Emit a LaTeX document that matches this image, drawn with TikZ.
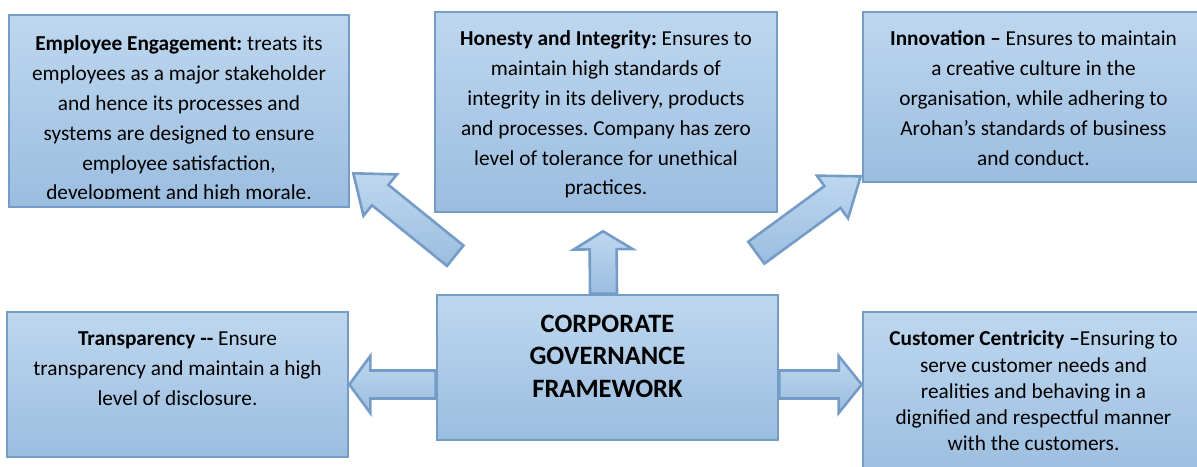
\documentclass[tikz,border=0pt]{standalone}
\usepackage{fontspec}
\setmainfont{Carlito}
\usetikzlibrary{calc}
\frenchspacing

\definecolor{edge}{RGB}{116,156,199}
\definecolor{filltop}{RGB}{190,215,239}
\definecolor{fillbot}{RGB}{155,189,223}

\tikzset{
  panel/.style={draw=edge, line width=2.6pt, top color=filltop, bottom color=fillbot, inner sep=0pt},
  blurb/.style={align=center, inner sep=0pt, anchor=north, font=\fontsize{21.3}{29.8}\selectfont},
  tightblurb/.style={blurb, font=\fontsize{21.3}{26.2}\selectfont},
  headline/.style={align=center, inner sep=0pt, anchor=north, font=\fontsize{26.5}{32.5}\selectfont\bfseries},
  arrowbody/.style={draw=edge, line width=2.6pt, top color=filltop, bottom color=fillbot, line join=miter}
}

% Block arrow from #1 (tail centre) to #2 (tip):
% #3 shaft half-width, #4 head half-width, #5 head length (all in pt)
\newcommand\blockarrow[5]{%
  \coordinate (#1-h) at ($(#2)!#5pt!(#1)$);
  \path[arrowbody]
    ($(#1)!#3pt!90:(#2)$) -- ($(#1-h)!#3pt!-90:(#1)$) -- ($(#1-h)!#4pt!-90:(#1)$)
    -- (#2)
    -- ($(#1-h)!#4pt!90:(#1)$) -- ($(#1-h)!#3pt!90:(#1)$) -- ($(#1)!#3pt!-90:(#2)$) -- cycle;
}

\begin{document}
\begin{tikzpicture}[x=1pt,y=-1pt]
\useasboundingbox (0,0) rectangle (1197,466);

% the six panels
\node[panel, minimum width=340pt, minimum height=192pt] (ee)    at (179,111)     {};
\node[panel, minimum width=342pt, minimum height=200pt] (hi)    at (606,112)     {};
\node[panel, minimum width=341pt, minimum height=170pt] (inn)   at (1033.5,97)   {};
\node[panel, minimum width=341pt, minimum height=145pt] (trans) at (177.5,384.5) {};
\node[panel, minimum width=341pt, minimum height=145pt] (cgf)   at (607.5,367.5) {};
\node[panel, minimum width=341pt, minimum height=170pt] (cust)  at (1033.5,397)  {};

% panel texts
\begin{scope}
  \clip (ee.north west) rectangle ($(ee.south east)+(0,-10)$);
  \node[blurb] (eetxt) at ($(ee.north)+(0,22)$) {\textbf{Employee Engagement:} treats its\\employees as a major stakeholder\\and hence its processes and\\systems are designed to ensure\\employee satisfaction,\\development and high morale.};
\end{scope}
\node[blurb] (hitxt) at ($(hi.north)+(0,20)$) {\textbf{Honesty and Integrity:} Ensures to\\maintain high standards of\\integrity in its delivery, products\\and processes. Company has zero\\level of tolerance for unethical\\practices.};
\node[blurb] (inntxt) at ($(inn.north)+(0,20)$) {\textbf{Innovation –} Ensures to maintain\\a creative culture in the\\organisation, while adhering to\\Arohan’s standards of business\\and conduct.};
\node[blurb] (transtxt) at ($(trans.north)+(0,21)$) {\textbf{Transparency {-}{-}} Ensure\\transparency and maintain a high\\level of disclosure.};
\node[tightblurb] (custtxt) at ($(cust.north)+(0,20)$) {\textbf{Customer Centricity –}Ensuring to\\serve customer needs and\\realities and behaving in a\\dignified and respectful manner\\with the customers.};
\node[headline] (cgftxt) at ($(cgf.north)+(0,21)$) {CORPORATE\\GOVERNANCE\\FRAMEWORK};

% arrow ends
\coordinate (l-tail)  at (cgf.west |- trans.east);
\coordinate (l-tip)   at (trans.east);
\coordinate (r-tail)  at (cgf.east |- trans.east);
\coordinate (r-tip)   at (cust.west |- trans.east);
\coordinate (u-tail)  at ($(cgf.north)+(-4,0)$);
\coordinate (u-tip)   at ($(hi.south)+(-3,18)$);
\coordinate (ul-tail) at ($(cgf.north west)+(19.5,-38)$);
\coordinate (ul-tip)  at ($(ee.south east)+(3,-35)$);
\coordinate (ur-tail) at ($(cgf.north east)+(-23,-41)$);
\coordinate (ur-tip)  at ($(inn.south west)+(-1,-7)$);

% block arrows
\blockarrow{l-tail}{l-tip}{14}{28.5}{21}
\blockarrow{r-tail}{r-tip}{14}{28.5}{23}
\blockarrow{u-tail}{u-tip}{13.5}{29.5}{18}
\blockarrow{ul-tail}{ul-tip}{13.1}{26.6}{34.6}
\blockarrow{ur-tail}{ur-tip}{13.6}{26.4}{35}
\end{tikzpicture}
\end{document}
